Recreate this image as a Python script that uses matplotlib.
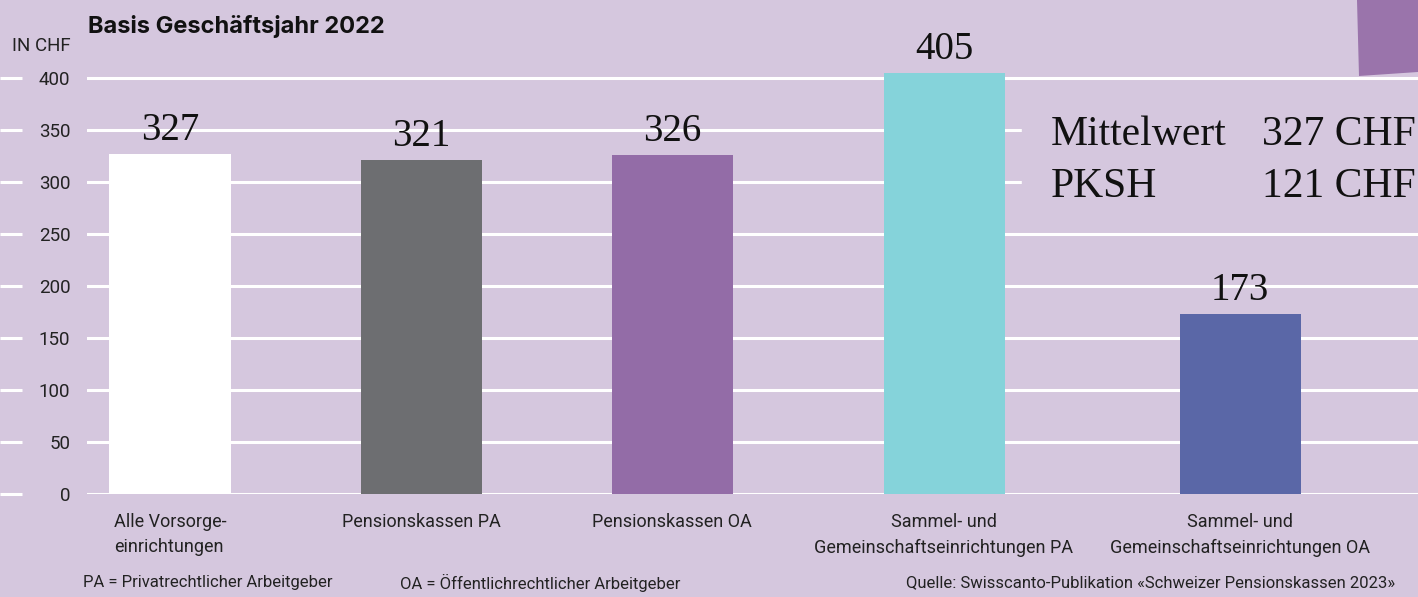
import matplotlib.pyplot as plt
from matplotlib.patches import Polygon

# Daten
kategorien = ["Alle Vorsorge-\neinrichtungen", "Pensionskassen PA", "Pensionskassen OA",
              "Sammel- und\nGemeinschaftseinrichtungen PA",
              "Sammel- und\nGemeinschaftseinrichtungen OA"]
werte = [327, 321, 326, 405, 173]
farben = ["#ffffff", "#6d6e71", "#936ca7", "#85d3da", "#5a67a7"]
positionen = [170, 421, 672, 944, 1240]
y_ticks = [0, 50, 100, 150, 200, 250, 300, 350, 400]

bg = "#d5c7de"
sans = ['Roboto', 'DejaVu Sans']
serif = ['Liberation Serif', 'DejaVu Serif']

W, H = 1418, 597
fig = plt.figure(figsize=(W / 100, H / 100), dpi=100)
fig.patch.set_facecolor(bg)

# Achse: x in Pixeln, 0 bei y=494px, 400 bei y=78px
ax = fig.add_axes([87 / W, (H - 494) / H, 1 - 87 / W, 494 / H])
ax.set_facecolor(bg)
ax.set_xlim(87, W)
ax.set_ylim(0, 494 / 1.04)
for s in ax.spines.values():
    s.set_visible(False)

ax.set_yticks(y_ticks)
ax.set_yticklabels([str(v) for v in y_ticks], family=sans, fontsize=13.5, color="#222222")
ax.tick_params(axis='y', length=0, pad=12)
ax.grid(axis='y', color='white', lw=2.2, zorder=0)
ax.set_axisbelow(True)
ax.hlines(y_ticks, 0, 22, color='white', lw=2.2, clip_on=False)

ax.bar(positionen, werte, width=121, color=farben, zorder=3)

for x, v in zip(positionen, werte):
    ax.annotate(str(v), (x, v), xytext=(0, 10), textcoords='offset points',
                ha='center', va='baseline', family=serif, fontsize=28, color='#111111')

ax.set_xticks(positionen)
ax.set_xticklabels(kategorien, family=sans, fontsize=13, color='#222222', linespacing=1.5)
ax.tick_params(axis='x', length=0, pad=14)
ax.get_xticklabels()[0].set_multialignment('left')

# Mittelwert-Box
for y_px, links, rechts in [(145, "Mittelwert", "327 CHF"), (197, "PKSH", "121 CHF")]:
    ax.text(1051, (494 - y_px) / 1.04, links, family=serif, fontsize=30, va='baseline',
            ha='left', color='#111111', zorder=5)
    ax.text(1416, (494 - y_px) / 1.04, rechts, family=serif, fontsize=30, va='baseline',
            ha='right', color='#111111', zorder=5)
ax.axhspan((494 - 212) / 1.04, (494 - 108) / 1.04, xmin=(1022 - 87) / (W - 87),
           xmax=1, color=bg, zorder=1)

# Titel und Einheit
fig.text(88 / W, 1 - 27 / H, "Basis Geschäftsjahr 2022", family=['Inter', 'Liberation Sans', 'DejaVu Sans'],
         fontsize=17, fontweight='bold', va='center', ha='left', color='#111111')
fig.text(71 / W, 1 - 46 / H, "IN CHF", family=sans, fontsize=13.5, va='center', ha='right',
         color='#222222')

# Fusszeile
fig.text(83 / W, 1 - 583 / H, "PA = Privatrechtlicher Arbeitgeber", family=sans,
         fontsize=12, va='center', ha='left', color='#222222')
fig.text(400 / W, 1 - 583 / H, "OA = Öffentlichrechtlicher Arbeitgeber", family=sans,
         fontsize=12, va='center', ha='left', color='#222222')
fig.text(1395 / W, 1 - 583 / H, "Quelle: Swisscanto-Publikation «Schweizer Pensionskassen 2023»",
         family=sans, fontsize=12, va='center', ha='right', color='#222222')

# Dekoration oben rechts
fig.patches.append(Polygon([(1357 / W, 1.0), (1.0, 1.0), (1.0, 1 - 72 / H), (1359 / W, 1 - 76 / H)],
                           closed=True, transform=fig.transFigure, facecolor='#9a74ab',
                           edgecolor='none', zorder=10))

fig.savefig("out.png", dpi=100, facecolor=bg)
